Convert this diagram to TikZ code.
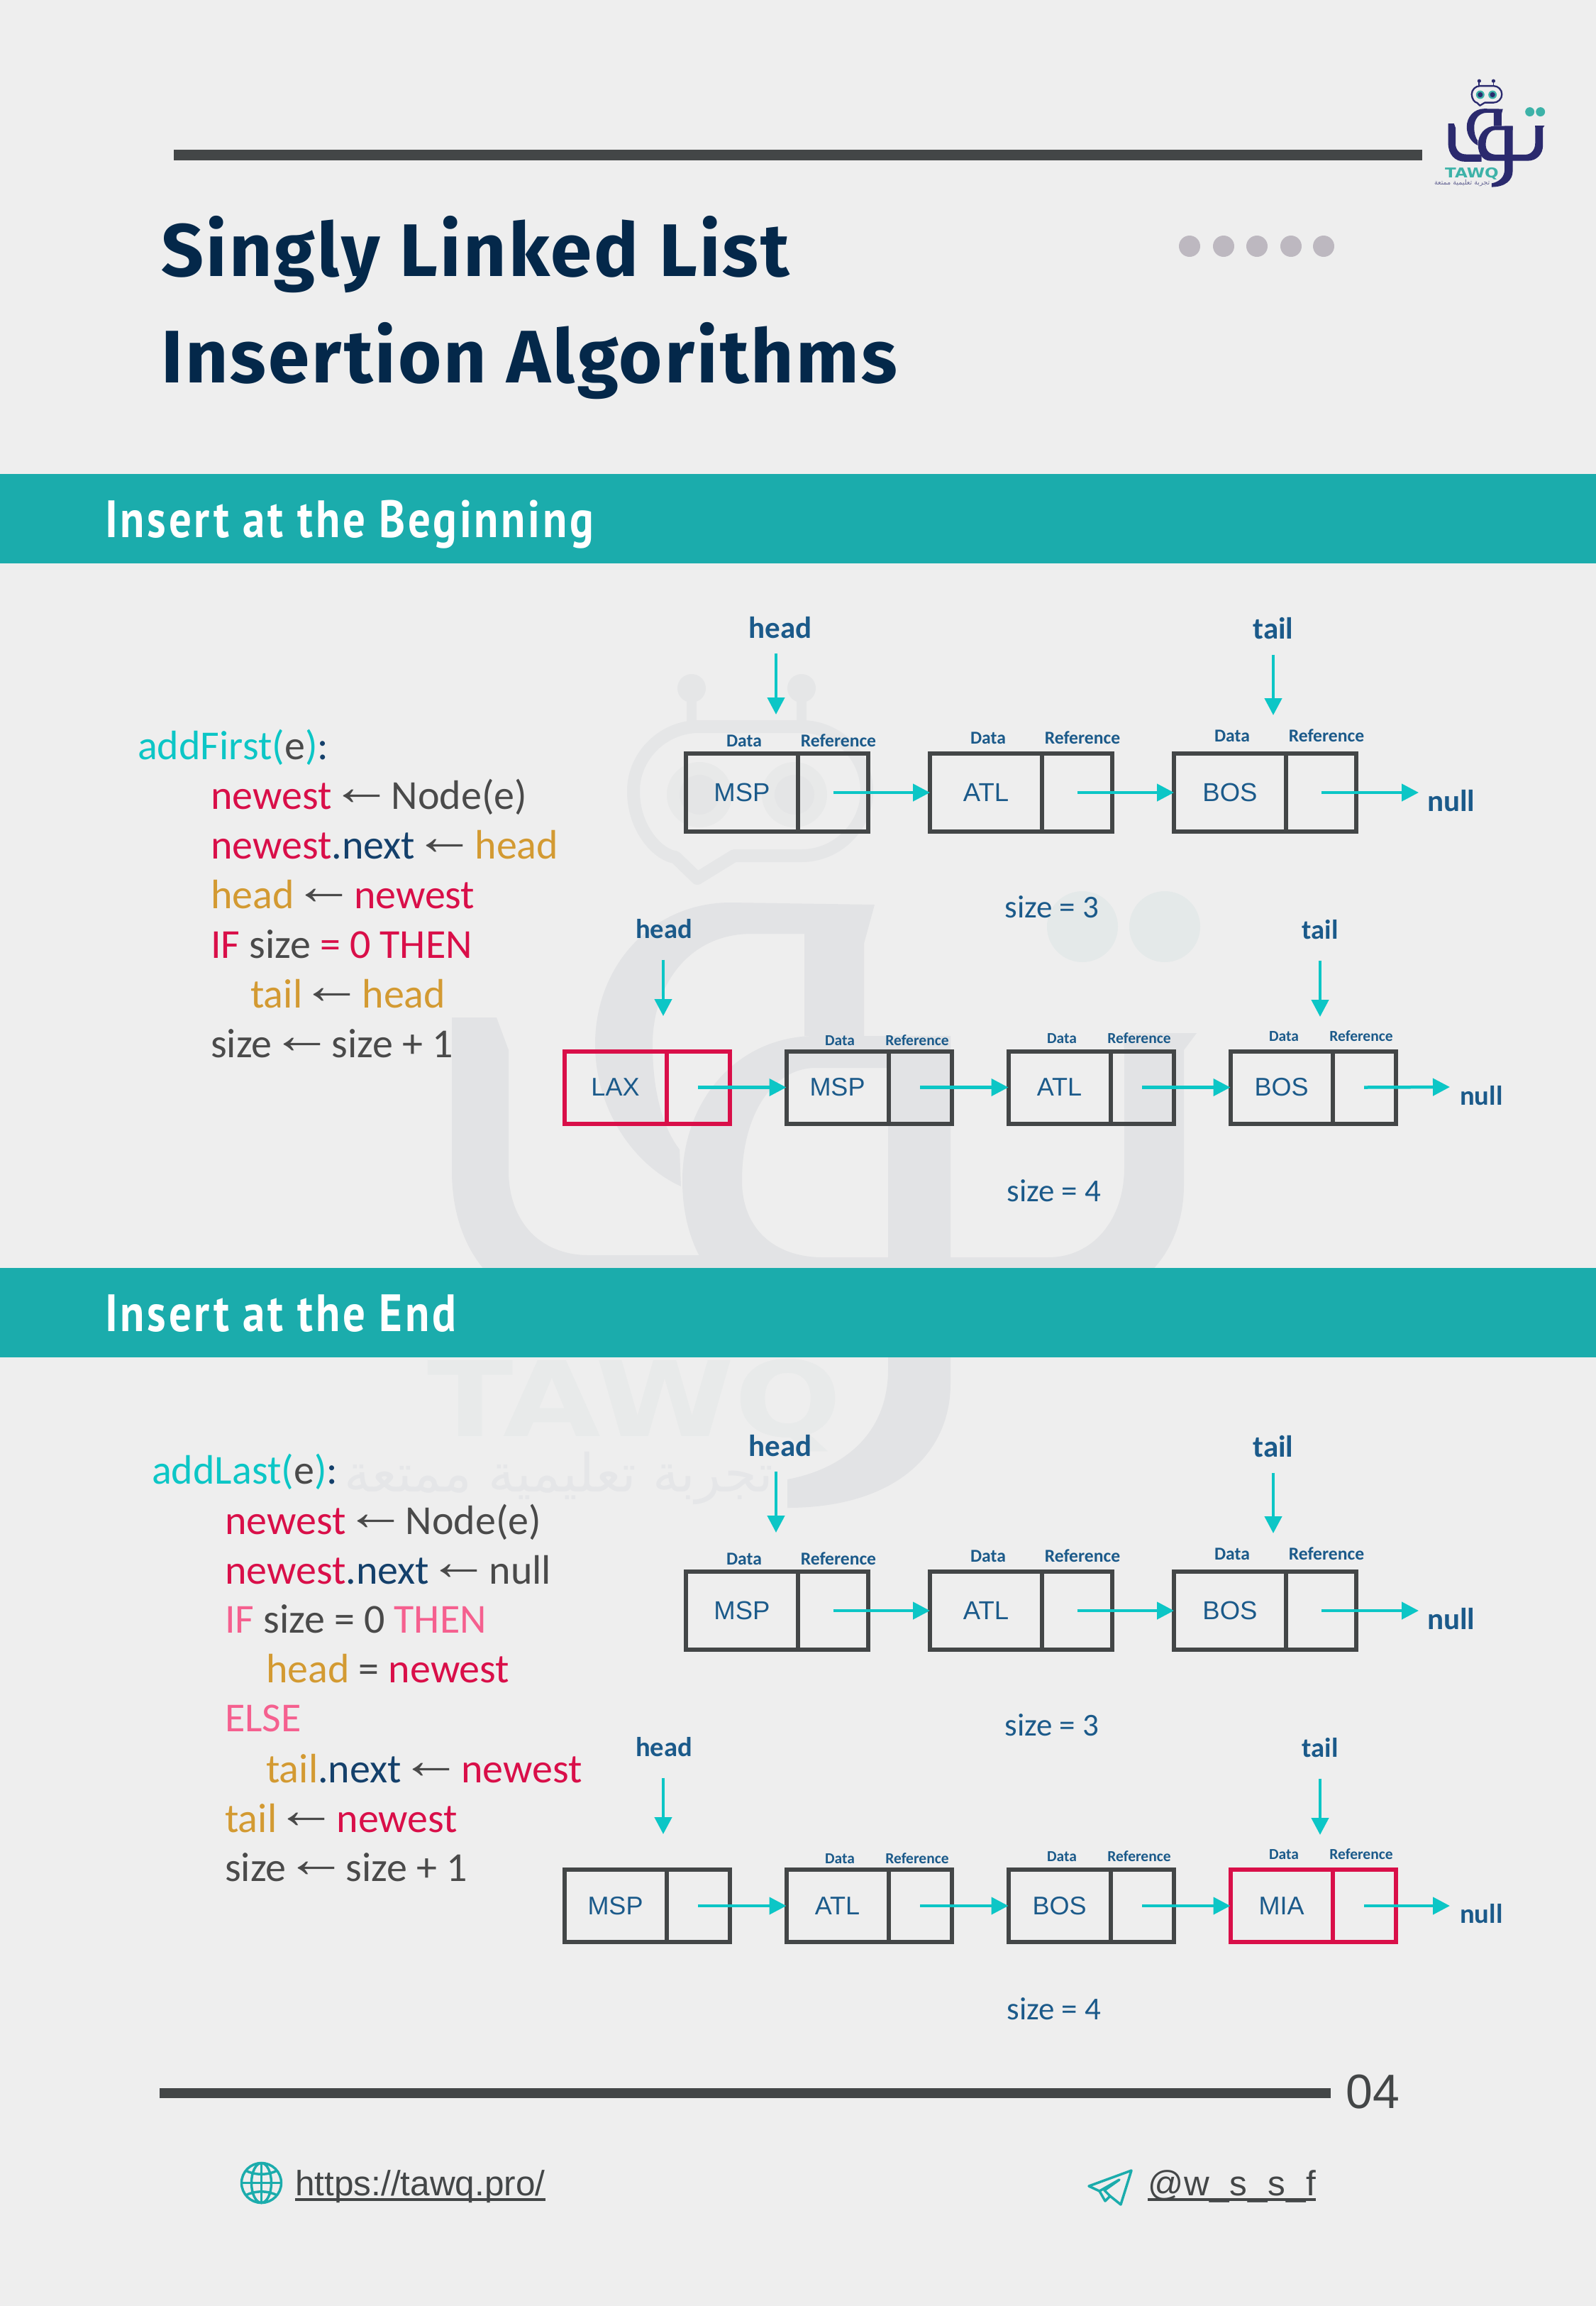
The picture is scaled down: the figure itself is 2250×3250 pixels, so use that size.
\documentclass[tikz,border=0pt]{standalone}
\usepackage{fontspec}
\usepackage{xcolor}
\usetikzlibrary{positioning,arrows.meta}
\setmainfont{Carlito}
\newfontfamily\titlefont[LetterSpace=3]{Fira Sans}
\newfontfamily\bandfont[FakeStretch=0.85,LetterSpace=5]{PT Sans}
\newfontfamily\cellfont{Liberation Sans}
\newfontfamily\handlefont[LetterSpace=1.5]{Liberation Sans}
\newfontfamily\markfont{DejaVu Sans}
\newfontfamily\arabicfont[Script=Arabic]{DejaVu Sans}
\TeXXeTstate=1
\definecolor{pagebg}{HTML}{EEEEEE}
\definecolor{bandteal}{HTML}{1BACAC}
\definecolor{rulegray}{HTML}{434647}
\definecolor{titlenavy}{HTML}{04284A}
\definecolor{dotgray}{HTML}{BDB8C0}
\definecolor{cyanlink}{HTML}{0CC6C6}
\definecolor{crimson}{HTML}{D90F49}
\definecolor{pinkkey}{HTML}{F5608F}
\definecolor{goldvar}{HTML}{D39A32}
\definecolor{navynext}{HTML}{14406B}
\definecolor{codegray}{HTML}{4A4A4A}
\definecolor{labelblue}{HTML}{1B5A8A}
\definecolor{wmgray}{HTML}{E2E3E5}
\definecolor{wmrobot}{HTML}{E5E6E7}
\definecolor{wmdot}{HTML}{E4E9E9}
\definecolor{wmtext}{HTML}{E8EAEA}
\definecolor{wmeye}{HTML}{E8E9E9}
\definecolor{wmpupil}{HTML}{E4E5E6}
\definecolor{logonavy}{HTML}{2B2A6E}
\definecolor{logoteal}{HTML}{3DB2A8}
\newcommand{\larr}{\makebox[1em]{\raisebox{.1em}{\scalebox{1.5}[1.3]{\cellfont ←}}}}
\newcommand{\tawqmark}[7]{%
  % body of the mark: #1 main, #2 dots, #3 eyes, #4 pupils, #5 letters, #6 stroke factor, #7 robot
  \fill[#1] (637,1434) -- (700,1434) -- (717,1480) -- (717,1650) .. controls (717,1720) and (760,1769) .. (830,1769) -- (1000,1769) -- (1000,1849) -- (820,1849) .. controls (710,1849) and (637,1770) .. (637,1650) -- cycle;
  \fill[#1] (1233,1275) -- (1030,1272) .. controls (920,1272) and (839,1360) .. (839,1472) .. controls (839,1560) and (890,1640) .. (960,1672) -- (958,1620) .. controls (935,1590) and (920,1540) .. (920,1472) .. controls (920,1390) and (970,1316) .. (1060,1316) -- (1134,1316) -- (1134,1460) -- (1218,1460) -- (1218,1330) -- cycle;
  \fill[#1] (1687,1456) -- (1669,1480) -- (1669,1670) .. controls (1669,1770) and (1600,1840) .. (1500,1840) -- (1100,1840) .. controls (1010,1840) and (962,1760) .. (962,1664) .. controls (962,1550) and (1040,1460) .. (1150,1460) -- (1340,1460) -- (1340,1505) -- (1150,1505) .. controls (1090,1505) and (1046,1570) .. (1046,1664) .. controls (1046,1730) and (1090,1772) .. (1160,1772) -- (1478,1772) .. controls (1540,1772) and (1585,1720) .. (1585,1645) -- (1585,1480) -- (1583,1456) -- cycle;
  \fill[#1] (1252,1460) -- (1340,1460) -- (1340,1950) .. controls (1340,2050) and (1260,2125) .. (1110,2125) -- (1110,2085) .. controls (1190,2070) and (1252,2020) .. (1252,1930) -- cycle;
  \fill[#2] (1526,1306) circle (50);
  \fill[#2] (1642,1306) circle (50);
  % robot head
  \draw[#7, line width=#6*18pt, line join=round] (1035,1206) -- (1130,1206) .. controls (1180,1206) and (1222,1165) .. (1222,1115) .. controls (1222,1065) and (1180,1024) .. (1130,1024) -- (985,1024) .. controls (935,1024) and (893,1065) .. (893,1115) .. controls (893,1170) and (930,1206) .. (952,1208) -- (983,1238) -- cycle;
  \draw[#7, line width=#6*14pt] (975,970) -- (975,1024);
  \draw[#7, line width=#6*14pt] (1130,970) -- (1130,1024);
  \fill[#7] (975,970) circle (20);
  \fill[#7] (1130,970) circle (20);
  \fill[#3] (986,1120) circle (46);
  \fill[#3] (1120,1120) circle (46);
  \fill[#4] (986,1120) circle (28);
  \fill[#4] (1120,1120) circle (28);
  \node[anchor=base west, inner sep=0pt, transform shape, text=#5, xscale=1.21, font=\markfont\bfseries\fontsize{147}{147}\selectfont] (wmletters) at (602,2024) {TAWQ};
  \node[anchor=base east, inner sep=0pt, transform shape, text=#1!70!pagebg, font=\arabicfont\fontsize{74}{74}\selectfont] (wmtag) at (1090,2102) {\beginR تجربة تعليمية ممتعة\endR};
}

\begin{document}
\begin{tikzpicture}[x=1pt, y=-1pt,
  band/.style={fill=bandteal},
  bandtext/.style={anchor=base west, inner sep=0pt, text=white, font=\bandfont\bfseries\fontsize{74}{74}\selectfont},
  thickrule/.style={fill=rulegray},
  titletext/.style={anchor=base west, inner sep=0pt, text=titlenavy, font=\titlefont\bfseries\fontsize{105}{105}\selectfont},
  code/.style={anchor=base west, inner sep=0pt, text=codegray, font=\fontsize{58}{70}\selectfont},
  bigdata/.style={draw=rulegray, line width=6pt, inner sep=0pt, outer sep=0pt, minimum height=110pt, minimum width=158pt, text=labelblue, font=\cellfont\fontsize{36.5}{36.5}\selectfont},
  bigref/.style={draw=rulegray, line width=6pt, inner sep=0pt, outer sep=0pt, minimum height=110pt, minimum width=99pt},
  smalldata/.style={draw=rulegray, line width=6pt, inner sep=0pt, outer sep=0pt, minimum height=102pt, minimum width=144pt, text=labelblue, font=\cellfont\fontsize{36}{36}\selectfont},
  smallref/.style={draw=rulegray, line width=6pt, inner sep=0pt, outer sep=0pt, minimum height=102pt, minimum width=89pt},
  bigtag/.style={anchor=base, inner sep=0pt, text=labelblue, font=\bfseries\fontsize{25.6}{25.6}\selectfont},
  smalltag/.style={anchor=base, inner sep=0pt, text=labelblue, font=\bfseries\fontsize{21.5}{21.5}\selectfont},
  bigptr/.style={anchor=base, inner sep=0pt, text=labelblue, font=\bfseries\fontsize{43}{43}\selectfont},
  smallptr/.style={anchor=base, inner sep=0pt, text=labelblue, font=\bfseries\fontsize{38.6}{38.6}\selectfont},
  sizelabel/.style={anchor=base, inner sep=0pt, text=labelblue, font=\fontsize{45}{45}\selectfont},
  link/.style={draw=cyanlink, line width=4.5pt, -{Triangle[length=24pt,width=24pt]}},
  footertext/.style={anchor=base west, inner sep=0pt, text=rulegray, font=\cellfont\fontsize{49.5}{49.5}\selectfont},
  underrule/.style={draw=rulegray, line width=3.5pt},
  icon/.style={draw=bandteal, line width=3.5pt, line join=round}]

  % Page
  \fill[pagebg] (0,0) rectangle (2250,3250);

  % Watermark
  \tawqmark{wmgray}{wmdot}{wmeye}{wmpupil}{wmtext}{1}{wmrobot}

  % Small logo
  \begin{scope}[shift={(1959.2,-11.4)}, scale=0.1294]
    \tawqmark{logonavy}{logoteal}{logoteal}{logonavy}{logoteal}{0.1294}{logonavy}
  \end{scope}

  % Header
  \fill[thickrule] (245,211) rectangle (2005,226);
  \node[titletext] (title1) at (227,389) {Singly Linked List};
  \node[titletext] (title2) at (227,539) {Insertion Algorithms};
  \fill[dotgray] (1677,347) circle (15);
  \fill[dotgray] (1725,347) circle (15);
  \fill[dotgray] (1772,347) circle (15);
  \fill[dotgray] (1820,347) circle (15);
  \fill[dotgray] (1866,347) circle (15);

  % Bands
  \fill[band] (0,668) rectangle (2250,794);
  \node[bandtext] (band1) at (148,757) {Insert at the Beginning};
  \fill[band] (0,1787) rectangle (2250,1913);
  \node[bandtext] (band2) at (148,1876) {Insert at the End};

  % Code, first part
  \node[code] (fa) at (194,1070) {\textcolor{cyanlink}{addFirst(}e\textcolor{cyanlink}{)}\textcolor{navynext}{:}};
  \node[code] (fb) at (297,1140) {\textcolor{crimson}{newest} \larr{} Node(e)};
  \node[code] (fc) at (297,1210) {\textcolor{crimson}{newest}\textcolor{navynext}{.next} \larr{} \textcolor{goldvar}{head}};
  \node[code] (fd) at (297,1280) {\textcolor{goldvar}{head} \larr{} \textcolor{crimson}{newest}};
  \node[code] (fe) at (297,1350) {\textcolor{crimson}{IF} size \textcolor{crimson}{= 0 THEN}};
  \node[code] (ff) at (353,1420) {\textcolor{goldvar}{tail} \larr{} \textcolor{goldvar}{head}};
  \node[code] (fg) at (297,1490) {size \larr{} size + 1};

  % Code, second part
  \node[code] (la) at (214,2091) {\textcolor{cyanlink}{addLast(}e\textcolor{cyanlink}{)}\textcolor{navynext}{:}};
  \node[code] (lb) at (317,2162) {\textcolor{crimson}{newest} \larr{} Node(e)};
  \node[code] (lc) at (317,2232) {\textcolor{crimson}{newest}\textcolor{navynext}{.next} \larr{} null};
  \node[code] (ld) at (317,2301) {\textcolor{pinkkey}{IF} size = 0 \textcolor{pinkkey}{THEN}};
  \node[code] (le) at (375,2371) {\textcolor{goldvar}{head} = \textcolor{crimson}{newest}};
  \node[code] (lf) at (317,2440) {\textcolor{pinkkey}{ELSE}};
  \node[code] (lg) at (375,2512) {\textcolor{goldvar}{tail}\textcolor{navynext}{.next} \larr{} \textcolor{crimson}{newest}};
  \node[code] (lh) at (317,2582) {\textcolor{goldvar}{tail} \larr{} \textcolor{crimson}{newest}};
  \node[code] (li) at (317,2651) {size \larr{} size + 1};

  % Nodes, first list
  \node[bigdata, anchor=west] (a1) at (967,1117) {MSP};
  \node[bigref, right=0pt of a1] (a1r) {};
  \node[bigdata, right=87pt of a1r] (a2) {ATL};
  \node[bigref, right=0pt of a2] (a2r) {};
  \node[bigdata, right=87pt of a2r] (a3) {BOS};
  \node[bigref, right=0pt of a3] (a3r) {};
  \node[bigtag] (a1d) at (1049,1052) {Data};
  \node[bigtag] (a1t) at (1182,1052) {Reference};
  \node[bigtag] (a2d) at (1393,1048) {Data};
  \node[bigtag] (a2t) at (1526,1048) {Reference};
  \node[bigtag] (a3d) at (1737,1045) {Data};
  \node[bigtag] (a3t) at (1870,1045) {Reference};
  \node[bigptr] (ah) at (1100,899) {head};
  \node[bigptr] (at) at (1795,900) {tail};
  \node[bigptr, anchor=base west] (an) at (2012,1143) {null};
  \node[sizelabel] (as) at (1483,1293) {size = 3};
  \coordinate (aht) at (1094,1007);
  \coordinate (att) at (1795,1008);
  \coordinate (ane) at (2000,1117);

  % Arrows, first list
  \draw[link, shorten <=21pt] (ah.south -| aht) -- (aht);
  \draw[link, shorten <=22pt] (at.south) -- (att);
  \draw[link] (a1r.center) -- (a2.west);
  \draw[link] (a2r.center) -- (a3.west);
  \draw[link] (a3r.center) -- (ane);

  % Nodes, second list
  \node[smalldata, anchor=west, draw=crimson] (b1) at (795.5,1532.5) {LAX};
  \node[smallref, right=0pt of b1, draw=crimson] (b1r) {};
  \node[smalldata, right=80pt of b1r] (b2) {MSP};
  \node[smallref, right=0pt of b2] (b2r) {};
  \node[smalldata, right=80pt of b2r] (b3) {ATL};
  \node[smallref, right=0pt of b3] (b3r) {};
  \node[smalldata, right=80pt of b3r] (b4) {BOS};
  \node[smallref, right=0pt of b4] (b4r) {};
  \node[smalltag] (b2d) at (1184,1473) {Data};
  \node[smalltag] (b2t) at (1293,1473) {Reference};
  \node[smalltag] (b3d) at (1497,1470) {Data};
  \node[smalltag] (b3t) at (1606,1470) {Reference};
  \node[smalltag] (b4d) at (1810,1467) {Data};
  \node[smalltag] (b4t) at (1919,1467) {Reference};
  \node[smallptr] (bh) at (936,1322) {head};
  \node[smallptr] (bt) at (1861,1323) {tail};
  \node[smallptr, anchor=base west] (bn) at (2058,1557) {null};
  \node[sizelabel] (bs) at (1486,1693) {size = 4};
  \coordinate (bht) at (935,1432);
  \coordinate (btt) at (1861,1433);
  \coordinate (bne) at (2044,1532);

  % Arrows, second list
  \draw[link, shorten <=30pt] (bh.south -| bht) -- (bht);
  \draw[link, shorten <=30pt] (bt.south) -- (btt);
  \draw[link] (b1r.center) -- (b2.west);
  \draw[link] (b2r.center) -- (b3.west);
  \draw[link] (b3r.center) -- (b4.west);
  \draw[link] (b4r.center) -- (bne);

  % Nodes, third list
  \node[bigdata, anchor=west] (c1) at (967,2270) {MSP};
  \node[bigref, right=0pt of c1] (c1r) {};
  \node[bigdata, right=87pt of c1r] (c2) {ATL};
  \node[bigref, right=0pt of c2] (c2r) {};
  \node[bigdata, right=87pt of c2r] (c3) {BOS};
  \node[bigref, right=0pt of c3] (c3r) {};
  \node[bigtag] (c1d) at (1049,2205) {Data};
  \node[bigtag] (c1t) at (1182,2205) {Reference};
  \node[bigtag] (c2d) at (1393,2201) {Data};
  \node[bigtag] (c2t) at (1526,2201) {Reference};
  \node[bigtag] (c3d) at (1737,2198) {Data};
  \node[bigtag] (c3t) at (1870,2198) {Reference};
  \node[bigptr] (ch) at (1100,2052) {head};
  \node[bigptr] (ct) at (1795,2053) {tail};
  \node[bigptr, anchor=base west] (cn) at (2012,2296) {null};
  \node[sizelabel] (cs) at (1483,2446) {size = 3};
  \coordinate (cht) at (1094,2160);
  \coordinate (ctt) at (1795,2161);
  \coordinate (cne) at (2000,2270);

  % Arrows, third list
  \draw[link, shorten <=21pt] (ch.south -| cht) -- (cht);
  \draw[link, shorten <=22pt] (ct.south) -- (ctt);
  \draw[link] (c1r.center) -- (c2.west);
  \draw[link] (c2r.center) -- (c3.west);
  \draw[link] (c3r.center) -- (cne);

  % Nodes, fourth list
  \node[smalldata, anchor=west] (d1) at (795.5,2686) {MSP};
  \node[smallref, right=0pt of d1] (d1r) {};
  \node[smalldata, right=80pt of d1r] (d2) {ATL};
  \node[smallref, right=0pt of d2] (d2r) {};
  \node[smalldata, right=80pt of d2r] (d3) {BOS};
  \node[smallref, right=0pt of d3] (d3r) {};
  \node[smalldata, right=80pt of d3r, draw=crimson] (d4) {MIA};
  \node[smallref, right=0pt of d4, draw=crimson] (d4r) {};
  \node[smalltag] (d2d) at (1184,2626) {Data};
  \node[smalltag] (d2t) at (1293,2626) {Reference};
  \node[smalltag] (d3d) at (1497,2623) {Data};
  \node[smalltag] (d3t) at (1606,2623) {Reference};
  \node[smalltag] (d4d) at (1810,2620) {Data};
  \node[smalltag] (d4t) at (1919,2620) {Reference};
  \node[smallptr] (dh) at (936,2475) {head};
  \node[smallptr] (dt) at (1861,2476) {tail};
  \node[smallptr, anchor=base west] (dn) at (2058,2710) {null};
  \node[sizelabel] (ds) at (1486,2846) {size = 4};
  \coordinate (dht) at (935,2585);
  \coordinate (dtt) at (1861,2586);
  \coordinate (dne) at (2044,2686);

  % Arrows, fourth list
  \draw[link, shorten <=30pt] (dh.south -| dht) -- (dht);
  \draw[link, shorten <=30pt] (dt.south) -- (dtt);
  \draw[link] (d1r.center) -- (d2.west);
  \draw[link] (d2r.center) -- (d3.west);
  \draw[link] (d3r.center) -- (d4.west);
  \draw[link] (d4r.center) -- (dne);

  % Footer
  \fill[thickrule] (225,2943) rectangle (1876,2957);
  \node[anchor=base west, inner sep=0pt, text=rulegray, font=\handlefont\fontsize{68}{68}\selectfont] (pageno) at (1897,2971) {04};
  \node[footertext] (web) at (416,3094) {https://tawq.pro/};
  \draw[underrule] ([yshift=-6pt]web.base west) -- ([yshift=-6pt]web.base east);
  \node[footertext, font=\handlefont\fontsize{49.5}{49.5}\selectfont] (handle) at (1618,3094) {@w\_s\_s\_f};
  \draw[underrule] ([yshift=-6pt]handle.base west) -- ([yshift=-6pt]handle.base east);

  % Globe
  \draw[icon] (368.5,3076.5) circle (28);
  \draw[icon] (368.5,3076.5) ellipse (14 and 28);
  \draw[icon] (368.5,3048.5) -- (368.5,3104.5);
  \draw[icon] (340.5,3076.5) -- (396.5,3076.5);
  \draw[icon] (346,3059) .. controls (360,3066) and (377,3066) .. (391,3059);
  \draw[icon] (346,3094) .. controls (360,3087) and (377,3087) .. (391,3094);

  % Paper plane
  \draw[icon] (1595,3059) -- (1535,3081) -- (1550,3088) -- (1558,3102) -- (1565,3095) -- (1580,3107) -- cycle;
  \draw[icon] (1550,3088) -- (1578,3072) -- (1557,3087) -- (1565,3095);
\end{tikzpicture}
\end{document}
